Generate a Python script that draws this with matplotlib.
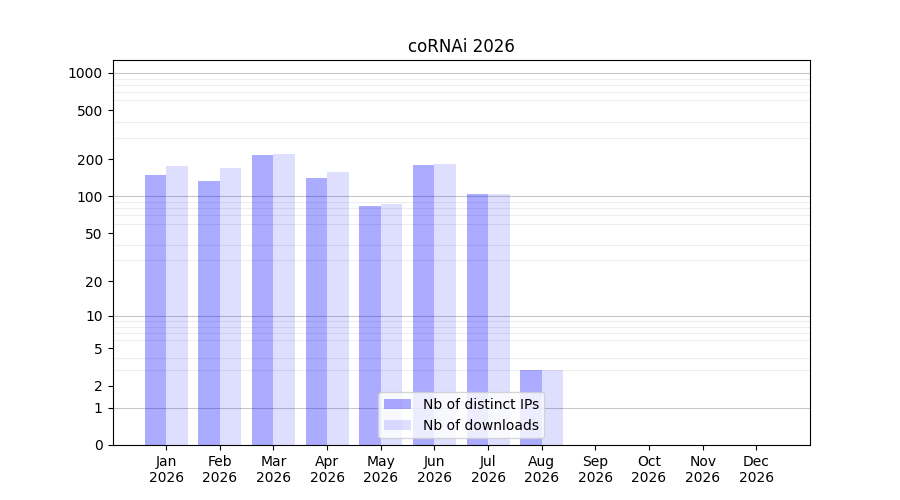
import matplotlib
matplotlib.use('Agg')
import matplotlib.pyplot as plt
import numpy as np

months = ['Jan', 'Feb', 'Mar', 'Apr', 'May', 'Jun', 'Jul', 'Aug', 'Sep', 'Oct', 'Nov', 'Dec']
year = 2026
ips = [149, 134, 217, 141, 84, 180, 105, 3, 0, 0, 0, 0]
downloads = [177, 170, 221, 158, 87, 184, 105, 3, 0, 0, 0, 0]

labeled = [0, 1, 2, 5, 10, 20, 50, 100, 200, 500, 1000]
decades = [1, 10, 100, 1000]


def fwd(y):
    return np.log10(1 + np.maximum(y, 0))


def inv(y):
    return 10 ** y - 1


x = np.arange(len(months))

fig, ax = plt.subplots(figsize=(9, 5), dpi=100)
ax.bar(x - 0.2, ips, width=0.4, color='blue', alpha=0.33, label='Nb of distinct IPs')
ax.bar(x + 0.2, downloads, width=0.4, color='blue', alpha=0.13, label='Nb of downloads')

ax.set_yscale('function', functions=(fwd, inv))
ax.set_ylim(0, 1270)
ax.set_xlim(-1, 12)

ax.set_yticks(labeled)
ax.set_yticklabels([str(v) for v in labeled])
minors = [m * d for d in decades[:3] for m in range(2, 10)]
ax.set_yticks(minors, minor=True)
ax.tick_params(axis='y', which='minor', length=0)
ax.yaxis.grid(True, which='minor', color='#000000', alpha=0.07, linewidth=0.8)
for d in decades:
    ax.axhline(d, color='#000000', alpha=0.22, linewidth=0.8, zorder=0.5)
ax.set_axisbelow(True)

ax.set_xticks(x)
ax.set_xticklabels(['%s\n%d' % (m, year) for m in months])
ax.set_title('coRNAi %d' % year)
ax.legend(loc='lower center')

fig.savefig('out.png')
